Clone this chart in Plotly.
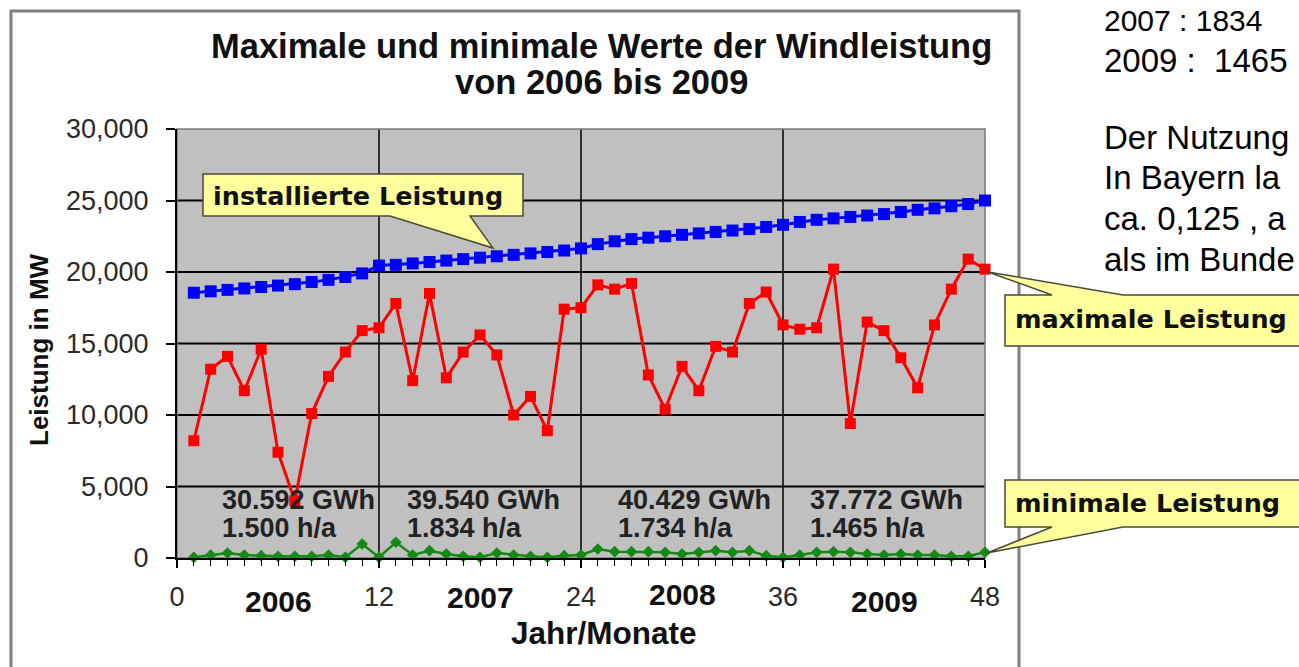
import plotly.graph_objects as go

# ---------------- data ----------------
months = list(range(1, 49))
installed = [18550, 18650, 18750, 18850, 18950, 19050, 19150, 19300, 19450, 19650, 19900, 20450,
             20500, 20600, 20700, 20800, 20900, 21000, 21100, 21200, 21300, 21400, 21500, 21650,
             21950, 22150, 22300, 22400, 22500, 22600, 22700, 22800, 22900, 23000, 23150, 23300,
             23500, 23650, 23750, 23850, 23950, 24050, 24200, 24350, 24450, 24600, 24750, 25000]
maximum = [8200, 13200, 14100, 11700, 14600, 7400, 4000, 10100, 12700, 14400, 15900, 16100,
           17800, 12400, 18500, 12600, 14400, 15600, 14200, 10000, 11300, 8900, 17400, 17500,
           19100, 18800, 19200, 12800, 10400, 13400, 11700, 14800, 14400, 17800, 18600, 16300,
           16000, 16100, 20200, 9400, 16500, 15900, 14000, 11900, 16300, 18800, 20900, 20200]
minimum = [50, 210, 350, 210, 160, 120, 120, 120, 210, 50, 980, 50,
           1100, 210, 510, 280, 120, 50, 350, 210, 120, 50, 160, 210,
           630, 440, 440, 440, 400, 280, 400, 510, 400, 510, 160, 50,
           210, 400, 440, 400, 280, 210, 280, 210, 210, 120, 120, 400]

x_ticks = [0, 12, 24, 36, 48]
year_pos = [6, 18, 30, 42]
year_labels = ["2006", "2007", "2008", "2009"]
energy_labels = ["30.592 GWh", "39.540 GWh", "40.429 GWh", "37.772 GWh"]
hours_labels = ["1.500 h/a", "1.834 h/a", "1.734 h/a", "1.465 h/a"]
label_x = [2.55, 13.55, 26.1, 37.5]
side_text = ["2007 : 1834", "2009 :  1465", "Der Nutzung", "In Bayern la", "ca. 0,125 , a", "als im Bunde"]

# ---------------- layout helpers ----------------
W, H = 1299, 667
L, R, T, B = 177, 985, 129, 558


def px(p):
    return (p - L) / (R - L)


def py(p):
    return (B - p) / (B - T)


def path(points):
    return "M " + " L ".join(f"{px(a):.5f},{py(b):.5f}" for a, b in points) + " Z"


fig = go.Figure()
fig.add_trace(go.Scatter(x=months, y=installed, mode="lines+markers", name="installierte Leistung",
                         line=dict(color="#0000FF", width=3),
                         marker=dict(symbol="square", size=12, color="#0000FF"), cliponaxis=False))
fig.add_trace(go.Scatter(x=months, y=maximum, mode="lines+markers", name="maximale Leistung",
                         line=dict(color="#FF0000", width=3),
                         marker=dict(symbol="square", size=11, color="#FF0000"), cliponaxis=False))
fig.add_trace(go.Scatter(x=months, y=minimum, mode="lines+markers", name="minimale Leistung",
                         line=dict(color="#138A13", width=2.5),
                         marker=dict(symbol="diamond", size=9, color="#138A13"), cliponaxis=False))

tick_font = dict(family="Liberation Sans, Arial", size=27, color="#2a2a2a")

fig.update_layout(
    width=W, height=H,
    margin=dict(l=L, r=W - R, t=T, b=H - B),
    paper_bgcolor="white", plot_bgcolor="#C0C0C0",
    showlegend=False,
    xaxis=dict(range=[0, 48], tickvals=x_ticks, showgrid=False, zeroline=False,
               showline=True, linecolor="black", linewidth=2,
               ticks="outside", ticklen=8, tickcolor="black", tickwidth=1.5,
               tickfont=tick_font, ticklabelstandoff=6,
               minor=dict(dtick=1, ticks="outside", ticklen=6, tickcolor="black", tickwidth=1.2, showgrid=False)),
    yaxis=dict(range=[0, 30000], tickvals=[0, 5000, 10000, 15000, 20000, 25000, 30000], tickformat=",d",
               showgrid=False, zeroline=True, zerolinecolor="black", zerolinewidth=2,
               showline=True, linecolor="black", linewidth=2,
               ticks="outside", ticklen=9, tickcolor="black", tickwidth=1.5,
               tickfont=tick_font, ticklabelstandoff=12),
)

shapes = []
# horizontal gridlines (top edge drawn by the lighter plot-area border)
for v in [5000, 10000, 15000, 20000, 25000]:
    shapes.append(dict(type="line", xref="paper", yref="y", x0=0, x1=1, y0=v, y1=v,
                       line=dict(color="black", width=1.8), layer="below"))
# vertical gridlines at year boundaries
for v in x_ticks[1:-1]:
    shapes.append(dict(type="line", xref="x", yref="paper", x0=v, x1=v, y0=0, y1=1,
                       line=dict(color="black", width=1.5), layer="below"))
# plot area border
shapes.append(dict(type="rect", xref="paper", yref="paper", x0=0, x1=1, y0=0, y1=1,
                   line=dict(color="#7a7a7a", width=1.5), layer="below"))
# outer frame of chart
shapes.append(dict(type="rect", xref="paper", yref="paper", x0=px(11), x1=px(1019), y0=py(720), y1=py(11),
                   line=dict(color="#808080", width=3)))
# callouts
callout_style = dict(type="path", xref="paper", yref="paper", fillcolor="#FFFF9E",
                     line=dict(color="#4a4a3a", width=1.5), layer="above")
shapes.append(dict(path=path([(203, 174), (523, 174), (523, 216), (470, 216), (493, 248), (390, 216), (203, 216)]),
                   **callout_style))
shapes.append(dict(path=path([(1005, 295), (1052, 295), (988, 272), (1123, 295), (1330, 295), (1330, 346), (1005, 346)]),
                   **callout_style))
shapes.append(dict(path=path([(1005, 480), (1330, 480), (1330, 527), (1123, 527), (987, 553), (1052, 527), (1005, 527)]),
                   **callout_style))
fig.update_layout(shapes=shapes)

ann = []
bold_font = "Liberation Sans, Arial"
# title
ann.append(dict(text="<b>Maximale und minimale Werte der Windleistung</b>", xref="paper", yref="paper",
                x=px(601), y=py(46), showarrow=False, xanchor="center", yanchor="middle",
                font=dict(family=bold_font, size=34.5, color="#111")))
ann.append(dict(text="<b>von 2006 bis 2009</b>", xref="paper", yref="paper",
                x=px(601), y=py(82), showarrow=False, xanchor="center", yanchor="middle",
                font=dict(family=bold_font, size=34.5, color="#111")))
# axis titles
ann.append(dict(text="<b>Leistung in MW</b>", xref="paper", yref="paper", x=px(39), y=py(350),
                textangle=-90, showarrow=False, xanchor="center", yanchor="middle",
                font=dict(family=bold_font, size=26, color="#111")))
ann.append(dict(text="<b>Jahr/Monate</b>", xref="paper", yref="paper", x=px(604), y=py(633),
                showarrow=False, xanchor="center", yanchor="middle",
                font=dict(family=bold_font, size=31.5, color="#111")))
# year labels
year_y = [601, 597, 594, 601]
for xv, lab, yy in zip(year_pos, year_labels, year_y):
    ann.append(dict(text=f"<b>{lab}</b>", xref="x", yref="paper", x=xv, y=py(yy), showarrow=False,
                    xanchor="center", yanchor="middle", font=dict(family=bold_font, size=30, color="#111")))
# energy / full-load hour labels
for xv, e, h in zip(label_x, energy_labels, hours_labels):
    ann.append(dict(text=f"<b>{e}</b>", xref="x", yref="y", x=xv, y=(B - 500) * 30000 / (B - T), showarrow=False,
                    xanchor="left", yanchor="middle", font=dict(family=bold_font, size=27, color="#222")))
    ann.append(dict(text=f"<b>{h}</b>", xref="x", yref="y", x=xv, y=(B - 528) * 30000 / (B - T), showarrow=False,
                    xanchor="left", yanchor="middle", font=dict(family=bold_font, size=27, color="#222")))
# callout texts
callout_font = dict(family="DejaVu Sans, Verdana", size=25.5, color="#111")
ann.append(dict(text="<b>installierte Leistung</b>", xref="paper", yref="paper", x=px(211), y=py(196),
                showarrow=False, xanchor="left", yanchor="middle", font=callout_font))
ann.append(dict(text="<b>maximale Leistung</b>", xref="paper", yref="paper", x=px(1013), y=py(319),
                showarrow=False, xanchor="left", yanchor="middle", font=callout_font))
ann.append(dict(text="<b>minimale Leistung</b>", xref="paper", yref="paper", x=px(1013), y=py(503),
                showarrow=False, xanchor="left", yanchor="middle", font=callout_font))
# surrounding page text
side_y = [20, 60, 137, 177, 218, 259]
side_size = [30, 33, 33, 33, 33, 33]
for txt, yy, sz in zip(side_text, side_y, side_size):
    ann.append(dict(text=txt, xref="paper", yref="paper", x=px(1102), y=py(yy), showarrow=False,
                    xanchor="left", yanchor="middle",
                    font=dict(family="Liberation Sans, Arial", size=sz, color="#000")))
fig.update_layout(annotations=ann)

fig.write_html("out.html", config={"displayModeBar": False},
               post_script="document.body.style.margin='0px';")
